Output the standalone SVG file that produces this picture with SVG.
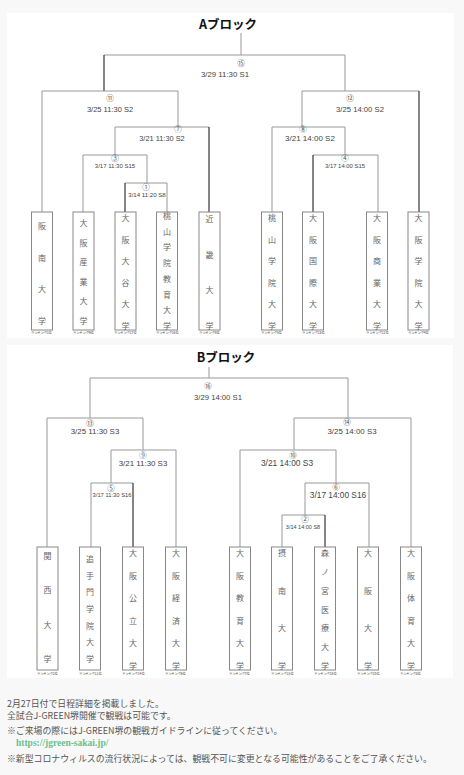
<svg xmlns="http://www.w3.org/2000/svg" width="464" height="775" viewBox="0 0 464 775">
<style>
.ttl{font-family:"Noto Sans CJK JP","Noto Sans",sans-serif;font-size:12.5px;font-weight:bold;fill:#111;text-anchor:middle}
.ln{stroke:#999;stroke-width:1;fill:none}
.dk{stroke:#333;stroke-width:1.2;fill:none}
.num{font-family:"Noto Sans CJK JP",sans-serif;font-size:7.5px;fill:#555;text-anchor:middle;dominant-baseline:central}
.dt{font-family:"Liberation Sans",Arial,sans-serif;fill:#444;text-anchor:middle;dominant-baseline:central}
.box{fill:#fff;stroke:#888;stroke-width:1}
.tm{font-family:"Noto Sans CJK JP",sans-serif;font-size:8px;fill:#666;text-anchor:middle;dominant-baseline:central}
.rk{font-family:"Noto Sans CJK JP",sans-serif;font-size:3.2px;fill:#333}
.note{font-family:"Noto Sans CJK JP",sans-serif;font-size:8.9px;fill:#555}
.url{font-family:"Liberation Serif","Noto Serif",serif;font-size:9.5px;font-weight:bold;fill:#6cc08b}
</style>
<rect x="0" y="0" width="464" height="775" fill="#f8f8f8"/>
<rect x="7" y="13" width="447" height="325" fill="#fff"/>
<rect x="7" y="345" width="446" height="333" fill="#fff"/>

<text class="ttl" x="228" y="29">Aブロック</text>
<text class="ttl" x="226" y="362">Bブロック</text>

<g id="connectors">
<path class="ln" d="M241,33V55M104,55H345M345,55V91"/>
<path class="dk" d="M104,55V91"/>
<path class="ln" d="M42,91H178M42,91V212M178,91V127"/>
<path class="ln" d="M115,127H209M115,127V155"/>
<path class="dk" d="M209,127V212"/>
<path class="ln" d="M83,155H147M83,155V212M147,155V183"/>
<path class="ln" d="M125,183H167M167,183V212"/>
<path class="dk" d="M125,183V212"/>
<path class="ln" d="M302,91H419M302,91V127"/>
<path class="dk" d="M419,91V212"/>
<path class="ln" d="M272,127H345M272,127V212M345,127V155"/>
<path class="ln" d="M313,155H378M378,155V212"/>
<path class="dk" d="M313,155V212"/>
<path class="ln" d="M209,367V378M90,378H348M90,378V418M348,378V418"/>
<path class="ln" d="M47,418H143M47,418V547M143,418V450"/>
<path class="ln" d="M111,450H176M111,450V483M176,450V547"/>
<path class="ln" d="M91,483H133M91,483V547"/>
<path class="dk" d="M133,483V547"/>
<path class="ln" d="M294,418H411M294,418V450M411,418V547"/>
<path class="ln" d="M240,450H336M240,450V547M336,450V483"/>
<path class="ln" d="M305,483H369M305,483V515M369,483V547"/>
<path class="ln" d="M282,515H325M282,515V547"/>
<path class="dk" d="M325,515V547"/>
</g>

<g id="matches">
<text class="num" x="241" y="62">⑮</text><text class="dt" x="225" y="74" font-size="7.8">3/29 11:30 S1</text>
<text class="num" x="110" y="97">⑪</text><text class="dt" x="110" y="109" font-size="7.5">3/25 11:30 S2</text>
<text class="num" x="178" y="128.5">⑦</text><text class="dt" x="162" y="138" font-size="7.4">3/21 11:30 S2</text>
<text class="num" x="115" y="157">③</text><text class="dt" x="115" y="166" font-size="6">3/17 11:30 S15</text>
<text class="num" x="146" y="186">①</text><text class="dt" x="147" y="194" font-size="6.1">3/14 11:20 S8</text>
<text class="num" x="350" y="97">⑫</text><text class="dt" x="360" y="109" font-size="7.7">3/25 14:00 S2</text>
<text class="num" x="303" y="128.5">⑧</text><text class="dt" x="310" y="138" font-size="8">3/21 14:00 S2</text>
<text class="num" x="345" y="157">④</text><text class="dt" x="345" y="166" font-size="5.9">3/17 14:00 S15</text>
<text class="num" x="208" y="385">⑯</text><text class="dt" x="218" y="397" font-size="7.7">3/29 14:00 S1</text>
<text class="num" x="90" y="422">⑬</text><text class="dt" x="95" y="431" font-size="7.9">3/25 11:30 S3</text>
<text class="num" x="143" y="454">⑨</text><text class="dt" x="143" y="463" font-size="7.9">3/21 11:30 S3</text>
<text class="num" x="111" y="487">⑤</text><text class="dt" x="112" y="495" font-size="5.8">3/17 11:30 S16</text>
<text class="num" x="347" y="421">⑭</text><text class="dt" x="352" y="431" font-size="7.9">3/25 14:00 S3</text>
<text class="num" x="293" y="454">⑩</text><text class="dt" x="287" y="463" font-size="8.4">3/21 14:00 S3</text>
<text class="num" x="336" y="486">⑥</text><text class="dt" x="338" y="495" font-size="8.3">3/17 14:00 S16</text>
<text class="num" x="305" y="518">②</text><text class="dt" x="303" y="527" font-size="5.5">3/14 14:00 S8</text>
</g>

<g id="team-a1"><rect class="box" x="31.5" y="212" width="21" height="118"/>
<text class="tm"><tspan x="42" y="225">阪</tspan><tspan x="42" y="256.7">南</tspan><tspan x="42" y="288.3">大</tspan><tspan x="42" y="320">学</tspan></text>
<text class="rk" x="31" y="334">ランキング1位</text></g>
<g id="team-a2"><rect class="box" x="73" y="212" width="21" height="118"/>
<text class="tm"><tspan x="83.5" y="222">大</tspan><tspan x="83.5" y="241.6">阪</tspan><tspan x="83.5" y="261.2">産</tspan><tspan x="83.5" y="280.8">業</tspan><tspan x="83.5" y="300.4">大</tspan><tspan x="83.5" y="320">学</tspan></text>
<text class="rk" x="73" y="334">ランキング9位</text></g>
<g id="team-a3"><rect class="box" x="115" y="212" width="21" height="118"/>
<text class="tm"><tspan x="125.5" y="217">大</tspan><tspan x="125.5" y="238.6">阪</tspan><tspan x="125.5" y="260.2">大</tspan><tspan x="125.5" y="281.8">谷</tspan><tspan x="125.5" y="303.4">大</tspan><tspan x="125.5" y="325">学</tspan></text>
<text class="rk" x="114" y="334">ランキング17位</text></g>
<g id="team-a4"><rect class="box" x="156.5" y="212" width="21" height="118"/>
<text class="tm"><tspan x="167" y="215">桃</tspan><tspan x="167" y="230.7">山</tspan><tspan x="167" y="246.4">学</tspan><tspan x="167" y="262.1">院</tspan><tspan x="167" y="277.9">教</tspan><tspan x="167" y="293.6">育</tspan><tspan x="167" y="309.3">大</tspan><tspan x="167" y="325">学</tspan></text>
<text class="rk" x="156" y="334">ランキング16位</text></g>
<g id="team-a5"><rect class="box" x="199" y="212" width="21" height="118"/>
<text class="tm"><tspan x="209.5" y="218">近</tspan><tspan x="209.5" y="253.7">畿</tspan><tspan x="209.5" y="289.3">大</tspan><tspan x="209.5" y="325">学</tspan></text>
<text class="rk" x="199" y="334">ランキング8位</text></g>
<g id="team-a6"><rect class="box" x="261.5" y="212" width="21" height="118"/>
<text class="tm"><tspan x="272" y="217">桃</tspan><tspan x="272" y="238.6">山</tspan><tspan x="272" y="260.2">学</tspan><tspan x="272" y="281.8">院</tspan><tspan x="272" y="303.4">大</tspan><tspan x="272" y="325">学</tspan></text>
<text class="rk" x="261" y="334">ランキング5位</text></g>
<g id="team-a7"><rect class="box" x="302.5" y="212" width="21" height="118"/>
<text class="tm"><tspan x="313" y="217">大</tspan><tspan x="313" y="238.6">阪</tspan><tspan x="313" y="260.2">国</tspan><tspan x="313" y="281.8">際</tspan><tspan x="313" y="303.4">大</tspan><tspan x="313" y="325">学</tspan></text>
<text class="rk" x="302" y="334">ランキング13位</text></g>
<g id="team-a8"><rect class="box" x="366.5" y="212" width="21" height="118"/>
<text class="tm"><tspan x="377" y="217">大</tspan><tspan x="377" y="238.6">阪</tspan><tspan x="377" y="260.2">商</tspan><tspan x="377" y="281.8">業</tspan><tspan x="377" y="303.4">大</tspan><tspan x="377" y="325">学</tspan></text>
<text class="rk" x="366" y="334">ランキング12位</text></g>
<g id="team-a9"><rect class="box" x="408" y="212" width="21" height="118"/>
<text class="tm"><tspan x="418.5" y="217">大</tspan><tspan x="418.5" y="238.6">阪</tspan><tspan x="418.5" y="260.2">学</tspan><tspan x="418.5" y="281.8">院</tspan><tspan x="418.5" y="303.4">大</tspan><tspan x="418.5" y="325">学</tspan></text>
<text class="rk" x="408" y="334">ランキング4位</text></g>

<g id="team-b1"><rect class="box" x="37" y="547" width="21" height="123"/>
<text class="tm"><tspan x="47.5" y="555">関</tspan><tspan x="47.5" y="589.3">西</tspan><tspan x="47.5" y="623.7">大</tspan><tspan x="47.5" y="658">学</tspan></text>
<text class="rk" x="37" y="675">ランキング2位</text></g>
<g id="team-b2"><rect class="box" x="79.5" y="547" width="21" height="123"/>
<text class="tm"><tspan x="90" y="558">追</tspan><tspan x="90" y="574.7">手</tspan><tspan x="90" y="591.3">門</tspan><tspan x="90" y="608">学</tspan><tspan x="90" y="624.7">院</tspan><tspan x="90" y="641.3">大</tspan><tspan x="90" y="658">学</tspan></text>
<text class="rk" x="79" y="675">ランキング11位</text></g>
<g id="team-b3"><rect class="box" x="122.5" y="547" width="21" height="123"/>
<text class="tm"><tspan x="133" y="552">大</tspan><tspan x="133" y="574.6">阪</tspan><tspan x="133" y="597.2">公</tspan><tspan x="133" y="619.8">立</tspan><tspan x="133" y="642.4">大</tspan><tspan x="133" y="665">学</tspan></text>
<text class="rk" x="122" y="675">ランキング14位</text></g>
<g id="team-b4"><rect class="box" x="165.5" y="547" width="21" height="123"/>
<text class="tm"><tspan x="176" y="552">大</tspan><tspan x="176" y="574.6">阪</tspan><tspan x="176" y="597.2">経</tspan><tspan x="176" y="619.8">済</tspan><tspan x="176" y="642.4">大</tspan><tspan x="176" y="665">学</tspan></text>
<text class="rk" x="165" y="675">ランキング6位</text></g>
<g id="team-b5"><rect class="box" x="229.5" y="547" width="21" height="123"/>
<text class="tm"><tspan x="240" y="552">大</tspan><tspan x="240" y="574.6">阪</tspan><tspan x="240" y="597.2">教</tspan><tspan x="240" y="619.8">育</tspan><tspan x="240" y="642.4">大</tspan><tspan x="240" y="665">学</tspan></text>
<text class="rk" x="229" y="675">ランキング7位</text></g>
<g id="team-b6"><rect class="box" x="271.5" y="547" width="21" height="123"/>
<text class="tm"><tspan x="282" y="552">摂</tspan><tspan x="282" y="589.7">南</tspan><tspan x="282" y="627.3">大</tspan><tspan x="282" y="665">学</tspan></text>
<text class="rk" x="271" y="675">ランキング15位</text></g>
<g id="team-b7"><rect class="box" x="314.5" y="547" width="21" height="123"/>
<text class="tm"><tspan x="325" y="552">森</tspan><tspan x="325" y="570.8">ノ</tspan><tspan x="325" y="589.7">宮</tspan><tspan x="325" y="608.5">医</tspan><tspan x="325" y="627.3">療</tspan><tspan x="325" y="646.2">大</tspan><tspan x="325" y="665">学</tspan></text>
<text class="rk" x="314" y="675">ランキング18位</text></g>
<g id="team-b8"><rect class="box" x="357.5" y="547" width="21" height="123"/>
<text class="tm"><tspan x="368" y="552">大</tspan><tspan x="368" y="589.7">阪</tspan><tspan x="368" y="627.3">大</tspan><tspan x="368" y="665">学</tspan></text>
<text class="rk" x="357" y="675">ランキング10位</text></g>
<g id="team-b9"><rect class="box" x="400.5" y="547" width="21" height="123"/>
<text class="tm"><tspan x="411" y="552">大</tspan><tspan x="411" y="574.6">阪</tspan><tspan x="411" y="597.2">体</tspan><tspan x="411" y="619.8">育</tspan><tspan x="411" y="642.4">大</tspan><tspan x="411" y="665">学</tspan></text>
<text class="rk" x="400" y="675">ランキング3位</text></g>

<g id="notes">
<text class="note" x="7" y="707">2月27日付で日程詳細を掲載しました。</text>
<text class="note" x="7" y="719">全試合J-GREEN堺開催で観戦は可能です。</text>
<text class="note" x="7" y="734">※ご来場の際にはJ-GREEN堺の観戦ガイドラインに従ってください。</text>
<text class="url" x="16" y="746">https://jgreen-sakai.jp/</text>
<text class="note" x="7" y="762">※新型コロナウィルスの流行状況によっては、観戦不可に変更となる可能性があることをご了承ください。</text>
</g>
</svg>
